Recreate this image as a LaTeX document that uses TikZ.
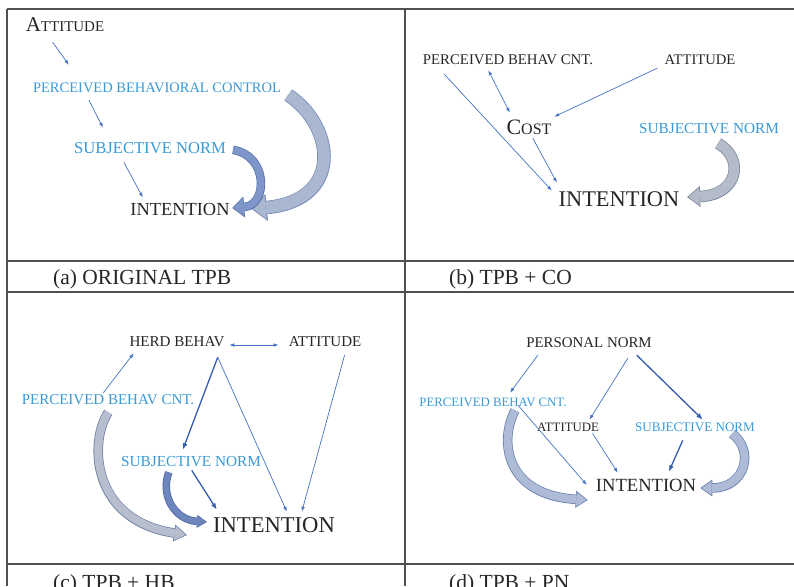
\documentclass[tikz,border=0pt]{standalone}
\usepackage{fontspec}
\setmainfont{Liberation Serif}
\usetikzlibrary{arrows.meta}
\definecolor{lblue}{RGB}{58,154,214}
\definecolor{ablue}{RGB}{68,114,196}
\definecolor{tblue}{RGB}{52,92,176}
\definecolor{ink}{RGB}{38,38,38}
\definecolor{rule}{RGB}{80,80,80}
\definecolor{fA}{RGB}{169,183,208}
\definecolor{eA}{RGB}{118,136,181}
\definecolor{fa}{RGB}{126,150,201}
\definecolor{ea}{RGB}{88,113,170}
\definecolor{fB}{RGB}{181,188,201}
\definecolor{eB}{RGB}{123,135,159}
\definecolor{fC}{RGB}{183,191,206}
\definecolor{eC}{RGB}{106,125,166}
\definecolor{fc}{RGB}{110,134,188}
\definecolor{ec}{RGB}{75,103,163}
\definecolor{fD}{RGB}{173,187,214}
\definecolor{eD}{RGB}{102,125,174}

\begin{document}
\begin{tikzpicture}[x=1pt,y=-1pt,
  lbl/.style={inner sep=0pt,text=ink,font=\fontsize{#1}{#1}\selectfont},
  blu/.style={lbl=#1,text=lblue},
  arr/.style={ablue,line width=0.7pt,-{Latex[length=5pt,width=3.6pt]}},
  darr/.style={ablue,line width=0.7pt,{Latex[length=5pt,width=3.6pt]}-{Latex[length=5pt,width=3.6pt]}},
  tarr/.style={tblue,line width=1.3pt,-{Latex[length=6.5pt,width=5pt]}},
  fat/.style n args={5}{draw=#1,line width=#3,
    -{Triangle[length=#4,width=#5,line width=0pt,scale=0.84]},shorten >=1.3pt,
    preaction={draw=#2,line width=#3+1.5pt,-{Triangle[length=#4,width=#5,line width=0pt]},shorten >=0pt}},
  grid/.style={rule,line width=1.4pt}]
\useasboundingbox (0,0) rectangle (794,586);
\clip (0,0) rectangle (794,586);
\fill[white] (0,0) rectangle (794,586);

\draw[grid] (7,9) -- (794,9);
\draw[grid] (7,9) -- (7,586);
\draw[grid] (405,9) -- (405,586);
\draw[grid] (7,261) -- (794,261);
\draw[grid] (7,292) -- (794,292);
\draw[grid] (7,564) -- (794,564);

\node[lbl=21] (attA) at (65,25) {A\fontsize{15}{15}\selectfont TTITUDE};
\node[blu=14.5] (pbcA) at (157,88) {PERCEIVED BEHAVIORAL CONTROL};
\node[blu=16.6] (snA) at (150,148) {SUBJECTIVE NORM};
\node[lbl=18.4] (intA) at (180,209) {INTENTION};
\draw[arr] ([shift={(27,10)}]attA.south west) -- ([shift={(36,-18)}]pbcA.north west);
\draw[arr] ([shift={(56,7)}]pbcA.south west) -- ([shift={(29,-14.5)}]snA.north west);
\draw[arr] ([shift={(50,8.5)}]snA.south west) -- ([shift={(12.6,-5)}]intA.north west);
\draw[fat={fA}{eA}{12pt}{15pt}{27pt}] ([shift={(7,7)}]pbcA.east)
  .. controls +(46,30) and +(93,-9) .. ([shift={(22,0)}]intA.east);
\draw[fat={fa}{ea}{7pt}{12pt}{21pt}] ([shift={(7,2)}]snA.east)
  .. controls +(35,5) and +(36,-3) .. ([shift={(2.5,-1)}]intA.east);
\node[lbl=21.5,anchor=west] (capA) at (53,279) {(a) ORIGINAL TPB};

\node[lbl=14.8] (pbcB) at (508,60) {PERCEIVED BEHAV CNT.};
\node[lbl=14.6] (attB) at (700,60) {ATTITUDE};
\node[lbl=22] (costB) at (529,127) {C\fontsize{16}{16}\selectfont OST};
\node[blu=15.3] (snB) at (709,129) {SUBJECTIVE NORM};
\node[lbl=22.4] (intB) at (619,199) {INTENTION};
\draw[arr] ([shift={(21.5,9)}]pbcB.south west) -- ([shift={(-6.6,-0.6)}]intB.north west);
\draw[darr] ([shift={(65.5,5)}]pbcB.south west) -- ([shift={(3.5,-6.7)}]costB.north west);
\draw[arr] ([shift={(-7,3)}]attB.south west) -- ([shift={(2.6,-2.7)}]costB.north east);
\draw[arr] ([shift={(26.5,3.7)}]costB.south west) -- ([shift={(-1.6,-8.6)}]intB.north west);
\draw[fat={fB}{eB}{10pt}{13pt}{21pt}] ([shift={(9,9)}]snB.south)
  .. controls +(27,15) and +(51,-2) .. ([shift={(7.6,-2)}]intB.east);
\node[lbl=21.5,anchor=west] (capB) at (449,279) {(b) TPB + CO};

\node[lbl=15.1] (herdC) at (177,342) {HERD BEHAV};
\node[lbl=15] (attC) at (325,342) {ATTITUDE};
\node[blu=15] (pbcC) at (108,400) {PERCEIVED BEHAV CNT.};
\node[blu=15.3] (snC) at (191,462) {SUBJECTIVE NORM};
\node[lbl=22.6] (intC) at (274,525) {INTENTION};
\draw[darr] ([shift={(4.6,3)}]herdC.east) -- ([shift={(-10,3)}]attC.west);
\draw[arr] ([shift={(81.7,-2)}]pbcC.north west) -- ([shift={(4.4,6)}]herdC.south west);
\draw[tarr] ([shift={(88.4,10)}]herdC.south west) -- ([shift={(61.9,-6.9)}]snC.north west);
\draw[arr] ([shift={(88.4,10)}]herdC.south west) -- ([shift={(73.9,-5.5)}]intC.north west);
\draw[arr] ([shift={(56,8)}]attC.south west) -- ([shift={(88.9,-5.5)}]intC.north west);
\draw[tarr] ([shift={(70.9,3)}]snC.south west) -- ([shift={(3.9,-7.5)}]intC.north west);
\draw[fat={fC}{eC}{8pt}{13pt}{17pt}] ([shift={(86.7,7)}]pbcC.south west)
  .. controls +(-19,28) and +(-97,-15) .. ([shift={(-26,10)}]intC.west);
\draw[fat={fc}{ec}{6pt}{10pt}{13pt}] ([shift={(48,5)}]snC.south west)
  .. controls +(-9,23) and +(-32,-2) .. ([shift={(-6,-3)}]intC.west);
\node[lbl=21.5,anchor=west] (capC) at (53,584) {(c) TPB + HB};

\node[lbl=14.9] (pnD) at (589,343) {PERSONAL NORM};
\node[blu=12.8] (pbcD) at (493,402) {PERCEIVED BEHAV CNT.};
\node[lbl=12.8] (attD) at (568,427) {ATTITUDE};
\node[blu=13.1] (snD) at (695,427) {SUBJECTIVE NORM};
\node[lbl=18.6] (intD) at (646,485) {INTENTION};
\draw[arr] ([shift={(11.7,7)}]pnD.south west) -- ([shift={(90.8,-4.8)}]pbcD.north west);
\draw[arr] ([shift={(101.7,10)}]pnD.south west) -- ([shift={(52.6,-2.8)}]attD.north west);
\draw[tarr] ([shift={(110.7,7)}]pnD.south west) -- ([shift={(67.8,-2.7)}]snD.north west);
\draw[arr] ([shift={(98.8,-1.2)}]pbcD.south west) -- ([shift={(-8.9,0)}]intD.west);
\draw[arr] ([shift={(55.6,1.8)}]attD.south west) -- ([shift={(22.1,-5.8)}]intD.north west);
\draw[tarr] ([shift={(47.8,8.7)}]snD.south west) -- ([shift={(73.1,-6.8)}]intD.north west);
\draw[fat={fD}{eD}{8pt}{12pt}{17pt}] ([shift={(95.8,3.8)}]pbcD.south west)
  .. controls +(-16,30) and +(-83,-5) .. ([shift={(-8,15)}]intD.west);
\draw[fat={fD}{eD}{8pt}{12pt}{17pt}] ([shift={(-23,2)}]snD.south east)
  .. controls +(23,17) and +(45,0) .. ([shift={(4,3)}]intD.east);
\node[lbl=21.5,anchor=west] (capD) at (449,584) {(d) TPB + PN};
\end{tikzpicture}
\end{document}
